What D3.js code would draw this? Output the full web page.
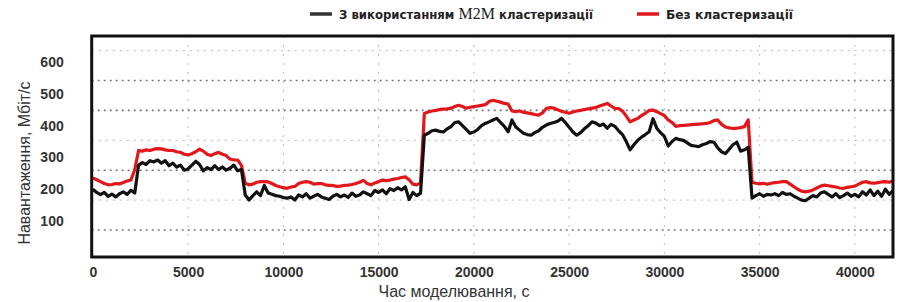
<!DOCTYPE html>
<html>
<head>
<meta charset="utf-8">
<script src="https://cdn.jsdelivr.net/npm/d3@7/dist/d3.min.js"></script>
<style>
  body { margin: 0; background: #fff; }
  svg { display: block; }
</style>
</head>
<body>
<div id="chart"></div>
<script>
// simulation time, s (one sample every 200 s)
var time = d3.range(0, 42001, 200);

// load without clustering (red), Mbit/s
var noClust = [
  236,230,224,218,214,215,218,217,221,226,
  229,262,322,320,324,322,326,328,327,324,
  322,322,318,316,310,308,312,318,326,320,
  310,306,312,316,310,306,295,292,292,275,
  219,214,216,222,224,224,223,218,212,208,
  205,203,207,209,218,222,224,222,216,218,
  218,214,212,212,209,210,212,213,215,218,
  222,228,218,214,220,224,229,227,229,232,
  234,237,239,230,216,214,220,438,443,446,
  448,451,452,453,455,460,464,460,455,458,
  460,462,464,466,476,480,477,474,470,468,
  446,444,446,442,440,438,435,433,440,454,
  457,455,450,445,442,439,443,446,448,451,
  453,455,457,462,466,470,462,454,454,446,
  430,412,418,423,432,439,448,449,444,438,
  432,418,410,398,400,401,402,403,404,405,
  406,407,410,416,418,404,396,393,391,392,
  394,397,418,222,219,217,219,216,219,221,
  222,224,224,216,208,200,194,192,194,198,
  204,210,213,211,209,207,204,203,206,208,
  210,216,222,224,220,219,221,223,224,222,
  226
];

// load with M2M clustering (black), Mbit/s
var m2m = [
  200,190,183,190,178,185,176,186,192,184,
  197,188,276,284,278,290,286,292,282,290,
  274,282,270,276,260,264,276,288,278,258,
  268,262,274,262,270,260,266,276,258,262,
  182,166,180,192,180,212,188,184,180,178,
  174,172,176,166,182,176,186,172,178,184,
  176,172,168,178,184,176,182,174,188,178,
  182,192,186,180,196,190,198,186,202,196,
  205,198,208,168,190,180,188,370,376,384,
  386,382,380,390,397,410,412,400,388,376,
  380,388,400,407,412,418,423,410,398,381,
  418,396,386,376,372,370,378,384,395,402,
  407,410,414,423,410,395,380,370,378,390,
  400,412,408,400,405,392,404,398,384,372,
  350,324,340,354,364,372,381,422,392,378,
  366,336,350,360,356,354,346,338,336,334,
  340,344,350,348,330,318,312,326,340,348,
  320,324,332,172,180,186,178,184,182,186,
  180,190,184,186,178,172,166,164,172,180,
  176,188,192,184,176,186,174,180,188,178,
  184,176,192,182,198,180,194,178,200,184,
  196
];

var xTicks = [0, 5000, 10000, 15000, 20000, 25000, 30000, 35000, 40000];
var yTicks = [100, 200, 300, 400, 500, 600];
// dotted grid rows of the original picture (they do not sit on the labels)
var gridMajor = [72, 260, 448, 542];
var gridMinor = [166, 354, 636];

var svgWidth = 899, svgHeight = 302;
var plot = { left: 91.7, top: 36, right: 893, bottom: 257 };

var svg = d3.select("#chart").append("svg")
  .attr("width", svgWidth)
  .attr("height", svgHeight);

svg.append("rect").attr("width", svgWidth).attr("height", svgHeight).attr("fill", "#fff");

var x = d3.scaleLinear().domain([-60, 42000]).range([plot.left, plot.right]);
var y = d3.scaleLinear().domain([-13, 682]).range([plot.bottom, plot.top]);

// grid
svg.append("g").selectAll("line")
  .data(xTicks.slice(1))
  .enter().append("line")
  .attr("x1", function(d) { return x(d); })
  .attr("x2", function(d) { return x(d); })
  .attr("y1", plot.top).attr("y2", plot.bottom)
  .attr("stroke", "#bbb")
  .attr("stroke-width", 1)
  .attr("stroke-dasharray", "2,7");

svg.append("g").selectAll("line")
  .data(gridMinor)
  .enter().append("line")
  .attr("x1", plot.left).attr("x2", plot.right)
  .attr("y1", function(d) { return y(d); })
  .attr("y2", function(d) { return y(d); })
  .attr("stroke", "#c4c4c4")
  .attr("stroke-width", 1.2)
  .attr("stroke-dasharray", "2,5");

svg.append("g").selectAll("line")
  .data(gridMajor)
  .enter().append("line")
  .attr("x1", plot.left).attr("x2", plot.right)
  .attr("y1", function(d) { return y(d); })
  .attr("y2", function(d) { return y(d); })
  .attr("stroke", "#777")
  .attr("stroke-width", 1.6)
  .attr("stroke-dasharray", "2,4");

// series
var line = function(vals) {
  return d3.line()
    .x(function(d, i) { return x(time[i]); })
    .y(function(d) { return y(d); })(vals);
};

svg.append("path")
  .attr("d", line(noClust))
  .attr("fill", "none")
  .attr("stroke", "#e3161b")
  .attr("stroke-width", 3.2)
  .attr("stroke-linejoin", "round");

svg.append("path")
  .attr("d", line(m2m))
  .attr("fill", "none")
  .attr("stroke", "#111")
  .attr("stroke-width", 3.2)
  .attr("stroke-linejoin", "round");

// frame
svg.append("rect")
  .attr("x", plot.left).attr("y", plot.top)
  .attr("width", plot.right - plot.left)
  .attr("height", plot.bottom - plot.top)
  .attr("fill", "none")
  .attr("stroke", "#111")
  .attr("stroke-width", 3);

// axes
var bottomAxis = d3.axisBottom(x).tickValues(xTicks).tickSize(0).tickPadding(10)
  .tickFormat(d3.format("d"));
var gx = svg.append("g")
  .attr("transform", "translate(0," + plot.bottom + ")")
  .call(bottomAxis);
gx.select(".domain").remove();
gx.selectAll("text")
  .style("font-family", "Liberation Sans, Arial, sans-serif")
  .style("font-size", "14px")
  .style("font-weight", "bold")
  .attr("fill", "#333");

var leftAxis = d3.axisLeft(y).tickValues(yTicks).tickSize(0).tickPadding(28);
var gy = svg.append("g")
  .attr("transform", "translate(" + plot.left + ",0)")
  .call(leftAxis);
gy.select(".domain").remove();
gy.selectAll("text")
  .style("font-family", "Liberation Sans, Arial, sans-serif")
  .style("font-size", "14px")
  .style("font-weight", "bold")
  .attr("fill", "#333");

// axis titles
svg.append("text")
  .attr("transform", "translate(30,163) rotate(-90)")
  .style("text-anchor", "middle")
  .style("font-family", "Liberation Sans, Arial, sans-serif")
  .style("font-size", "16px")
  .attr("fill", "#333")
  .text("Навантаження, Мбіт/с");

svg.append("text")
  .attr("x", 454).attr("y", 297)
  .style("text-anchor", "middle")
  .style("font-family", "Liberation Sans, Arial, sans-serif")
  .style("font-size", "16px")
  .attr("fill", "#333")
  .text("Час моделювання, с");

// legend
var legend = svg.append("g").style("font-family", "Liberation Sans Narrow, DejaVu Sans Condensed, sans-serif");

legend.append("line")
  .attr("x1", 310).attr("x2", 332).attr("y1", 14).attr("y2", 14)
  .attr("stroke", "#333").attr("stroke-width", 3.5);
var t1 = legend.append("text")
  .attr("x", 339).attr("y", 19)
  .style("font-size", "13px")
  .style("font-weight", "bold")
  .attr("fill", "#222")
  .attr("textLength", 254)
  .attr("lengthAdjust", "spacingAndGlyphs");
t1.append("tspan").text("З використанням ");
t1.append("tspan").style("font-family", "Liberation Serif, serif").style("font-size", "16px").style("font-weight", "normal").text("M2M");
t1.append("tspan").text(" кластеризації");

legend.append("line")
  .attr("x1", 637).attr("x2", 659).attr("y1", 14).attr("y2", 14)
  .attr("stroke", "#e3161b").attr("stroke-width", 3.5);
legend.append("text")
  .attr("x", 666).attr("y", 19)
  .style("font-size", "13px")
  .style("font-weight", "bold")
  .attr("fill", "#222")
  .attr("textLength", 127)
  .attr("lengthAdjust", "spacingAndGlyphs")
  .text("Без кластеризації");
</script>
</body>
</html>
